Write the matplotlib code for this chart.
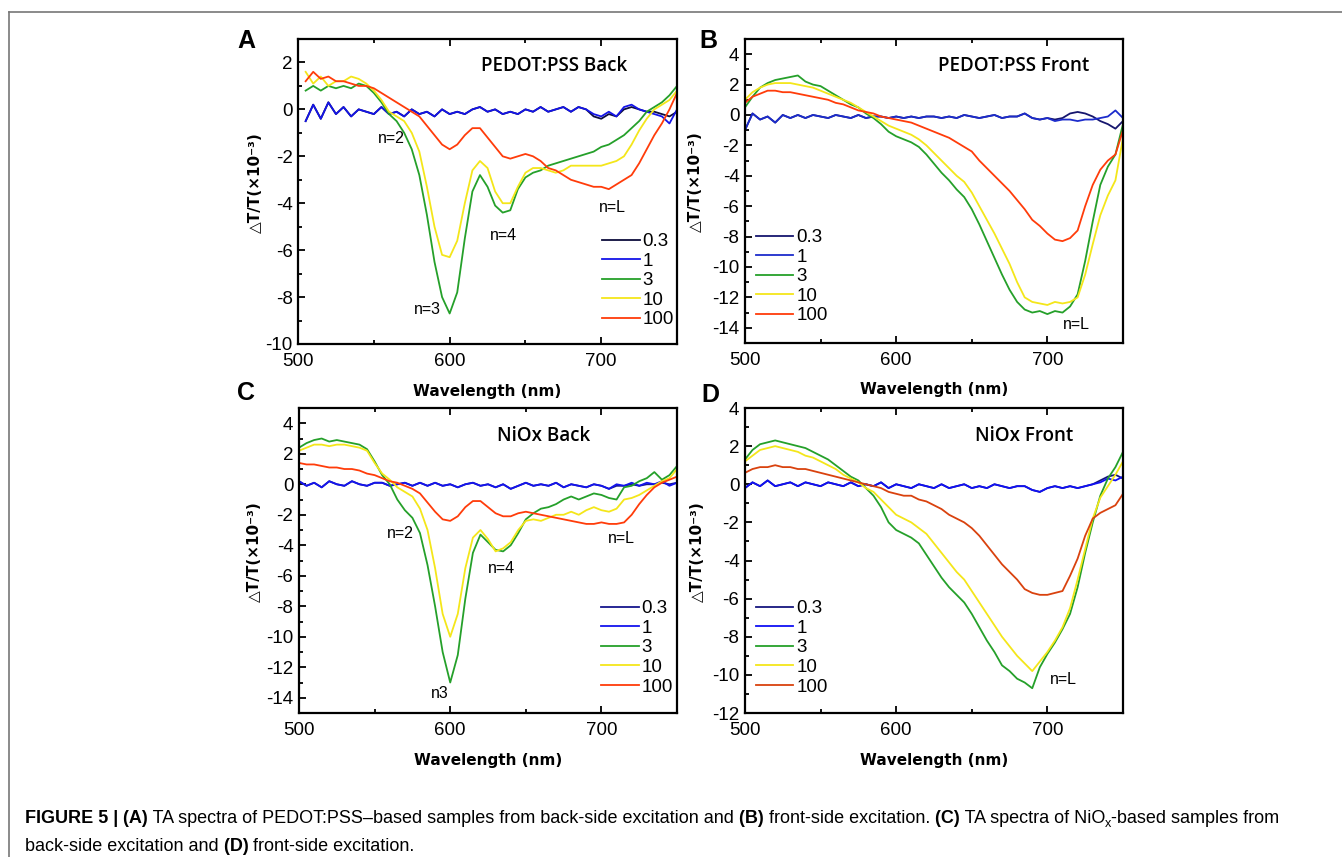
import numpy as np
import matplotlib
matplotlib.use("Agg")
import matplotlib.pyplot as plt
from matplotlib.ticker import MultipleLocator
from matplotlib.lines import Line2D

plt.rcParams['axes.unicode_minus'] = False
plt.rcParams['font.family'] = ['Liberation Sans', 'DejaVu Sans']

# delay times (legend labels)
delays = ['0.3', '1', '3', '10', '100']

# ---------------- panel A : PEDOT:PSS back ----------------
wl_a = np.arange(505, 751, 5)
a_03 = [-0.5, 0.2, -0.4, 0.3, -0.2, 0.1, -0.3, 0.0, -0.1, -0.2,
        0.1, -0.2, -0.1, -0.3, 0.0, -0.2, -0.1, -0.3, 0.0, -0.2,
        -0.1, -0.2, 0.0, 0.1, -0.1, 0.0, -0.2, -0.1, -0.2, 0.0,
        -0.1, 0.1, -0.1, 0.0, 0.1, -0.1, 0.1, 0.0, -0.3, -0.4,
        -0.2, -0.3, 0.0, 0.1, 0.0, -0.1, -0.1, -0.2, -0.3, -0.1]
a_1 = [-0.5, 0.2, -0.4, 0.3, -0.2, 0.1, -0.3, 0.0, -0.1, -0.2,
       0.1, -0.2, -0.1, -0.3, 0.0, -0.2, -0.1, -0.3, 0.0, -0.2,
       -0.1, -0.2, 0.0, 0.1, -0.1, 0.0, -0.2, -0.1, -0.2, 0.0,
       -0.1, 0.1, -0.1, 0.0, 0.1, -0.1, 0.1, 0.0, -0.2, -0.3,
       -0.1, -0.3, 0.1, 0.2, 0.0, -0.1, -0.2, -0.3, -0.6, 0.0]
a_3 = [0.8, 1.0, 0.8, 1.0, 0.9, 1.0, 0.9, 1.1, 1.0, 0.7,
       0.3, -0.2, -0.5, -1.0, -1.7, -2.8, -4.5, -6.5, -8.0, -8.7,
       -7.8, -5.5, -3.5, -2.8, -3.3, -4.1, -4.4, -4.3, -3.4, -2.9,
       -2.7, -2.6, -2.4, -2.3, -2.2, -2.1, -2.0, -1.9, -1.8, -1.6,
       -1.5, -1.3, -1.1, -0.8, -0.5, -0.1, 0.1, 0.3, 0.6, 1.0]
a_10 = [1.6, 1.1, 1.4, 1.0, 1.2, 1.2, 1.4, 1.3, 1.1, 0.8,
        0.4, -0.1, -0.3, -0.5, -1.0, -1.8, -3.3, -5.0, -6.2, -6.3,
        -5.6, -4.0, -2.6, -2.2, -2.5, -3.5, -4.0, -4.0, -3.3, -2.7,
        -2.5, -2.5, -2.6, -2.7, -2.6, -2.4, -2.4, -2.4, -2.4, -2.4,
        -2.3, -2.2, -2.0, -1.5, -0.9, -0.4, 0.0, 0.2, 0.4, 0.8]
a_100 = [1.2, 1.6, 1.3, 1.4, 1.2, 1.2, 1.1, 1.0, 1.0, 0.9,
         0.7, 0.5, 0.3, 0.1, -0.1, -0.3, -0.7, -1.1, -1.5, -1.7,
         -1.5, -1.1, -0.8, -0.8, -1.2, -1.6, -2.0, -2.1, -2.0, -1.9,
         -2.0, -2.2, -2.5, -2.6, -2.8, -3.0, -3.1, -3.2, -3.3, -3.3,
         -3.4, -3.2, -3.0, -2.8, -2.3, -1.7, -1.1, -0.6, 0.0, 0.7]

# ---------------- panel B : PEDOT:PSS front ----------------
wl = np.arange(500, 751, 5)
b_03 = [-1.0, 0.1, -0.3, -0.1, -0.5, 0.0, -0.2, 0.0, -0.2, 0.0,
        -0.1, -0.2, 0.0, -0.1, -0.2, 0.0, -0.2, -0.1, -0.1, -0.2,
        -0.1, -0.2, -0.1, -0.2, -0.1, -0.1, -0.2, -0.1, -0.2, 0.0,
        -0.1, -0.2, -0.1, 0.0, -0.2, -0.1, -0.1, 0.1, -0.2, -0.3,
        -0.2, -0.3, -0.2, 0.1, 0.2, 0.1, -0.1, -0.4, -0.6, -0.9, -0.4]
b_1 = [-1.0, 0.1, -0.3, -0.1, -0.5, 0.0, -0.2, 0.0, -0.2, 0.0,
       -0.1, -0.2, 0.0, -0.1, -0.2, 0.0, -0.2, -0.1, -0.1, -0.2,
       -0.1, -0.2, -0.1, -0.2, -0.1, -0.1, -0.2, -0.1, -0.2, 0.0,
       -0.1, -0.2, -0.1, 0.0, -0.2, -0.1, -0.1, 0.1, -0.2, -0.3,
       -0.2, -0.4, -0.3, -0.3, -0.4, -0.3, -0.3, -0.2, -0.1, 0.3, -0.2]
b_3 = [0.5, 1.2, 1.8, 2.1, 2.3, 2.4, 2.5, 2.6, 2.2, 2.0,
       1.9, 1.6, 1.3, 1.0, 0.7, 0.5, 0.1, -0.2, -0.6, -1.1,
       -1.4, -1.6, -1.8, -2.1, -2.6, -3.2, -3.8, -4.3, -4.9, -5.4,
       -6.2, -7.2, -8.3, -9.4, -10.5, -11.5, -12.3, -12.8, -13.0, -12.9,
       -13.1, -12.9, -13.0, -12.6, -11.8, -9.6, -7.0, -4.6, -3.4, -2.6, -0.6]
b_10 = [1.0, 1.5, 1.8, 2.0, 2.1, 2.1, 2.1, 2.0, 1.9, 1.8,
        1.6, 1.4, 1.2, 1.0, 0.8, 0.5, 0.2, -0.1, -0.4, -0.7,
        -0.9, -1.1, -1.3, -1.6, -2.0, -2.5, -3.0, -3.5, -4.0, -4.4,
        -5.1, -6.0, -6.9, -7.8, -8.8, -9.8, -11.0, -12.0, -12.3, -12.4,
        -12.5, -12.3, -12.4, -12.3, -12.0, -10.5, -8.5, -6.6, -5.3, -4.3, -1.5]
b_100 = [0.8, 1.2, 1.4, 1.6, 1.6, 1.5, 1.5, 1.4, 1.3, 1.2,
         1.1, 1.0, 0.8, 0.7, 0.5, 0.3, 0.2, 0.1, -0.1, -0.2,
         -0.3, -0.4, -0.5, -0.7, -0.9, -1.1, -1.3, -1.5, -1.8, -2.1,
         -2.4, -3.0, -3.5, -4.0, -4.5, -5.0, -5.6, -6.2, -6.9, -7.3,
         -7.8, -8.2, -8.3, -8.1, -7.6, -6.0, -4.6, -3.6, -3.0, -2.6, -1.0]

# ---------------- panel C : NiOx back ----------------
c_03 = [0.2, -0.1, 0.1, -0.2, 0.2, 0.0, -0.1, 0.2, 0.0, -0.1,
        0.1, 0.1, -0.1, 0.0, 0.1, -0.1, 0.1, -0.1, 0.1, -0.1,
        0.0, -0.2, 0.0, 0.1, -0.1, 0.0, -0.2, 0.0, -0.3, -0.1,
        0.1, -0.1, 0.0, -0.1, 0.1, -0.2, 0.0, -0.1, -0.2, 0.0,
        -0.1, -0.3, -0.1, -0.1, 0.0, -0.1, 0.0, 0.0, 0.1, 0.0, 0.1]
c_1 = [0.2, -0.1, 0.1, -0.2, 0.2, 0.0, -0.1, 0.2, 0.0, -0.1,
       0.1, 0.1, -0.1, 0.0, 0.1, -0.1, 0.1, -0.1, 0.1, -0.1,
       0.0, -0.2, 0.0, 0.1, -0.1, 0.0, -0.2, 0.0, -0.3, -0.1,
       0.1, -0.1, 0.0, -0.1, 0.1, -0.2, 0.0, -0.1, -0.2, 0.0,
       -0.1, -0.3, 0.0, -0.1, 0.1, -0.1, 0.1, 0.0, 0.2, -0.1, 0.1]
c_3 = [2.4, 2.7, 2.9, 3.0, 2.8, 2.9, 2.8, 2.7, 2.6, 2.3,
       1.5, 0.6, 0.0, -1.0, -1.7, -2.2, -3.2, -5.3, -8.0, -11.0,
       -13.0, -11.2, -7.5, -4.5, -3.3, -3.8, -4.3, -4.4, -4.0, -3.2,
       -2.3, -1.9, -1.6, -1.5, -1.3, -1.0, -0.8, -1.0, -0.8, -0.6,
       -0.7, -0.9, -1.0, -0.2, -0.1, 0.2, 0.4, 0.8, 0.3, 0.6, 1.2]
c_10 = [2.2, 2.4, 2.6, 2.6, 2.5, 2.6, 2.6, 2.5, 2.4, 2.2,
        1.4, 0.7, 0.3, -0.2, -0.5, -0.8, -1.6, -3.0, -5.5, -8.5,
        -10.0, -8.5, -5.5, -3.5, -3.0, -3.6, -4.4, -4.2, -3.8, -3.0,
        -2.4, -2.3, -2.4, -2.2, -2.0, -2.0, -1.8, -2.0, -1.7, -1.5,
        -1.7, -1.8, -1.6, -1.0, -0.9, -0.7, -0.4, -0.1, 0.2, 0.4, 1.0]
c_100 = [1.4, 1.3, 1.3, 1.2, 1.1, 1.1, 1.0, 1.0, 0.9, 0.7,
         0.6, 0.4, 0.2, 0.1, -0.1, -0.3, -0.6, -1.2, -1.8, -2.3,
         -2.4, -2.1, -1.5, -1.1, -1.1, -1.5, -1.9, -2.1, -2.1, -1.9,
         -1.8, -1.9, -2.0, -2.1, -2.2, -2.3, -2.4, -2.5, -2.6, -2.6,
         -2.5, -2.6, -2.6, -2.5, -2.0, -1.3, -0.7, -0.2, 0.1, 0.3, 0.5]

# ---------------- panel D : NiOx front ----------------
d_03 = [-0.2, 0.1, -0.1, 0.2, -0.1, 0.0, 0.1, -0.1, 0.1, 0.0,
        -0.1, 0.1, 0.0, -0.1, 0.1, -0.1, 0.0, -0.1, 0.1, -0.2,
        0.0, -0.1, -0.2, 0.0, -0.1, -0.2, 0.0, -0.2, -0.1, 0.0,
        -0.2, -0.1, -0.2, 0.0, -0.1, -0.2, -0.1, -0.1, -0.3, -0.4,
        -0.2, -0.1, -0.2, -0.1, -0.2, -0.1, 0.0, 0.2, 0.4, 0.5, 0.3]
d_1 = [-0.2, 0.1, -0.1, 0.2, -0.1, 0.0, 0.1, -0.1, 0.1, 0.0,
       -0.1, 0.1, 0.0, -0.1, 0.1, -0.1, 0.0, -0.1, 0.1, -0.2,
       0.0, -0.1, -0.2, 0.0, -0.1, -0.2, 0.0, -0.2, -0.1, 0.0,
       -0.2, -0.1, -0.2, 0.0, -0.1, -0.2, -0.1, -0.1, -0.3, -0.4,
       -0.2, -0.1, -0.2, -0.1, -0.2, -0.1, 0.0, 0.1, 0.3, 0.2, 0.4]
d_3 = [1.3, 1.8, 2.1, 2.2, 2.3, 2.2, 2.1, 2.0, 1.9, 1.7,
       1.5, 1.3, 1.0, 0.7, 0.4, 0.2, -0.2, -0.6, -1.2, -2.0,
       -2.4, -2.6, -2.8, -3.1, -3.7, -4.3, -4.9, -5.4, -5.8, -6.2,
       -6.8, -7.5, -8.2, -8.8, -9.5, -9.8, -10.2, -10.4, -10.7, -9.6,
       -8.9, -8.3, -7.6, -6.8, -5.4, -3.6, -2.0, -0.6, 0.3, 0.9, 1.7]
d_10 = [1.2, 1.5, 1.8, 1.9, 2.0, 1.9, 1.8, 1.7, 1.5, 1.4,
        1.2, 1.0, 0.8, 0.5, 0.3, 0.1, -0.2, -0.4, -0.8, -1.2,
        -1.6, -1.8, -2.0, -2.3, -2.6, -3.1, -3.6, -4.1, -4.6, -5.0,
        -5.6, -6.2, -6.8, -7.4, -8.0, -8.5, -9.0, -9.4, -9.8, -9.3,
        -8.8, -8.2, -7.5, -6.5, -5.0, -3.4, -1.8, -0.7, -0.1, 0.5, 1.2]
d_100 = [0.6, 0.8, 0.9, 0.9, 1.0, 0.9, 0.9, 0.8, 0.8, 0.7,
         0.6, 0.5, 0.4, 0.3, 0.2, 0.1, 0.0, -0.1, -0.2, -0.4,
         -0.5, -0.6, -0.6, -0.8, -0.9, -1.1, -1.3, -1.6, -1.8, -2.0,
         -2.3, -2.7, -3.2, -3.7, -4.2, -4.6, -5.0, -5.5, -5.7, -5.8,
         -5.8, -5.7, -5.6, -4.8, -3.9, -2.7, -1.8, -1.5, -1.3, -1.1, -0.5]

colors_a = ['#0c0c3c', '#1414e8', '#25a02a', '#f4e61a', '#ff3c0a']
colors_b = ['#16166e', '#1c2ccc', '#25a02a', '#f4e61a', '#ff3c0a']
colors_c = ['#16168c', '#1414ee', '#25a02a', '#f4e61a', '#ff3c0a']
colors_d = ['#16167e', '#1010f4', '#25a02a', '#f4e61a', '#d9420e']

fig = plt.figure(figsize=(13.42, 8.57), dpi=100)

ylabel = '\u25b3T/T(\u00d710\u207b\u00b3)'


def draw_panel(rect, x, series, colors, ylim, title, tpos, notes, leg_pos, ylab_x):
    ax = fig.add_axes(rect)
    for vals, c, lab in zip(series, colors, delays):
        ax.plot(x, vals, color=c, lw=1.3, label=lab)
    ax.set_xlim(500, 750)
    ax.set_ylim(*ylim)
    ax.xaxis.set_major_locator(MultipleLocator(100))
    ax.xaxis.set_minor_locator(MultipleLocator(50))
    ax.yaxis.set_major_locator(MultipleLocator(2))
    ax.yaxis.set_minor_locator(MultipleLocator(1))
    ax.tick_params(which='both', direction='in', top=True, right=False,
                   width=1.3, labelsize=13.5, pad=4)
    ax.tick_params(axis='x', pad=6.5)
    ax.tick_params(which='major', length=5)
    ax.tick_params(which='minor', length=3)
    for sp in ax.spines.values():
        sp.set_linewidth(1.6)
    ax.set_xlabel('Wavelength (nm)', family='DejaVu Sans', fontweight='bold', fontsize=11)
    ax.xaxis.set_label_coords(0.5, -0.13)
    ax.set_ylabel(ylabel, family='DejaVu Sans', fontweight='bold', fontsize=11)
    ax.yaxis.set_label_coords(ylab_x, 0.53)
    ax.text(tpos[0], tpos[1], title, transform=ax.transAxes, ha='center',
            va='baseline', fontsize=13.5, family=['Open Sans', 'DejaVu Sans'],
            fontweight='semibold')
    for txt, nx, ny in notes:
        ax.text(nx, ny, txt, ha='center', va='center', fontsize=11.5)
    ax.legend(loc='upper left', bbox_to_anchor=leg_pos, frameon=False, fontsize=13.5,
              handlelength=2.0, handletextpad=0.15, labelspacing=0.13,
              borderpad=0, borderaxespad=0)
    return ax


ax_a = draw_panel([0.2221, 0.5986, 0.2824, 0.3559], wl_a, [a_03, a_1, a_3, a_10, a_100],
                  colors_a, (-10, 3), 'PEDOT:PSS Back', (0.676, 0.895),
                  [('n=2', 561.6, -1.23), ('n=3', 585.4, -8.55), ('n=4', 635.8, -5.36),
                   ('n=L', 707.3, -4.2)], (0.802, 0.364), -0.092)
ax_b = draw_panel([0.5551, 0.5998, 0.2817, 0.3547], wl, [b_03, b_1, b_3, b_10, b_100],
                  colors_b, (-15, 5), 'PEDOT:PSS Front', (0.712, 0.895),
                  [('n=L', 718.9, -13.8)], (0.029, 0.375), -0.111)
ax_c = draw_panel([0.2228, 0.1680, 0.2817, 0.3559], wl, [c_03, c_1, c_3, c_10, c_100],
                  colors_c, (-15, 5), 'NiOx Back', (0.648, 0.892),
                  [('n=2', 566.8, -3.22), ('n3', 593.3, -13.75), ('n=4', 633.6, -5.5),
                   ('n=L', 713.0, -3.55)], (0.799, 0.370), -0.098)
ax_d = draw_panel([0.5551, 0.1680, 0.2817, 0.3559], wl, [d_03, d_1, d_3, d_10, d_100],
                  colors_d, (-12, 4), 'NiOx Front', (0.738, 0.892),
                  [('n=L', 710.3, -10.26)], (0.029, 0.370), -0.106)

# panel letters
for letter, px, py in [('A', 237, 48), ('B', 699, 48), ('C', 237, 400), ('D', 701, 402)]:
    fig.text(px / 1342, 1 - py / 857, letter, fontsize=18, fontweight='bold', va='baseline')

# frame lines around the figure
fig.add_artist(Line2D([9 / 1342, 1], [1 - 12 / 857, 1 - 12 / 857], color='#777777', lw=1.2))
fig.add_artist(Line2D([9 / 1342, 9 / 1342], [0, 1 - 12 / 857], color='#777777', lw=1.2))

# caption
cap_ax = fig.add_axes([0, 0, 1, 1])
cap_ax.set_axis_off()
cap_ax.set_zorder(-1)

CAP_FS = 13.0
line1 = [('FIGURE 5 |', True, 0), (' (A)', True, 0),
         (' TA spectra of PEDOT:PSS\u2013based samples from back-side excitation and', False, 0),
         (' (B)', True, 0), (' front-side excitation.', False, 0), (' (C)', True, 0),
         (' TA spectra of NiO', False, 0), ('x', False, 1), ('-based samples from', False, 0)]
line2 = [('back-side excitation and', False, 0), (' (D)', True, 0),
         (' front-side excitation.', False, 0)]


def caption_line(parts, x, y):
    first = None
    prev = None
    for txt, bold, sub in parts:
        w = 'bold' if bold else 'normal'
        fs = CAP_FS * 0.7 if sub else CAP_FS
        if first is None:
            first = cap_ax.text(x, y, txt, transform=fig.transFigure, fontsize=fs,
                                fontweight=w, va='bottom', ha='left')
            prev = first
        else:
            prev = cap_ax.annotate(txt, xy=(1, 0), xycoords=(prev, first),
                                   xytext=(0, -2.5 if sub else 0), textcoords='offset points',
                                   fontsize=fs, fontweight=w, va='bottom', ha='left')


caption_line(line1, 25 / 1342, 1 - 827 / 857)
caption_line(line2, 25 / 1342, 1 - 855 / 857)

fig.savefig('out.png', dpi=100)
